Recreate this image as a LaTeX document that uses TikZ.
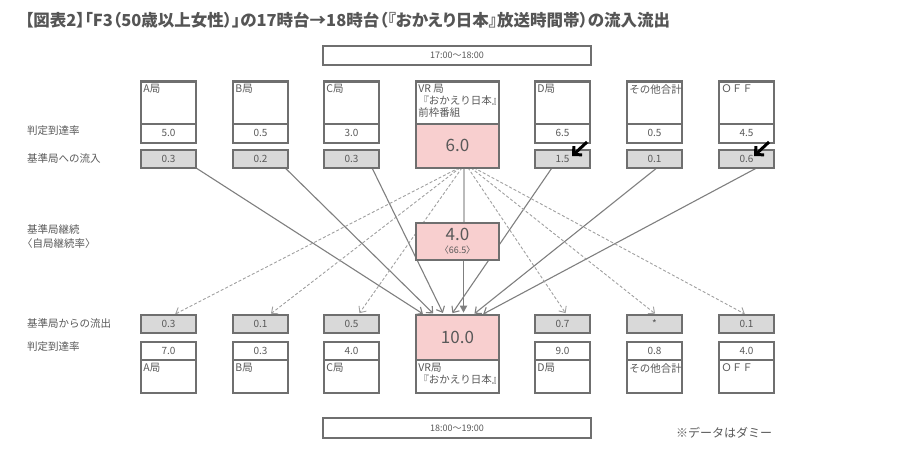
\documentclass[tikz,border=0pt]{standalone}
\usepackage{fontspec}
\setmainfont{Noto Sans CJK JP}
\usetikzlibrary{arrows.meta, backgrounds, positioning}

\definecolor{boxgray}{HTML}{6F6F6F}
\definecolor{txtgray}{HTML}{595959}
\definecolor{titlegray}{HTML}{555555}
\definecolor{flowgray}{HTML}{D9D9D9}
\definecolor{vrpink}{HTML}{F8CFCF}
\definecolor{linegray}{HTML}{7F7F7F}
\definecolor{dashgray}{HTML}{A0A0A0}
\definecolor{keepgray}{HTML}{BBBBBB}

\tikzset{
  box/.style={draw=boxgray, line width=2.4pt, fill=white, inner sep=0pt, outer sep=0pt,
    minimum width=54.6pt, text=txtgray, font=\fontsize{10}{12}\selectfont},
  namebox/.style={box, minimum height=42.6pt},
  valbox/.style={box, minimum height=18.9pt},
  flowbox/.style={box, fill=flowgray, minimum height=17.6pt},
  vrbox/.style={box, fill=vrpink, minimum width=82.6pt, font=\fontsize{17}{20}\selectfont},
  timebox/.style={box, minimum width=267.6pt, minimum height=18.6pt, font=\fontsize{9}{11}\selectfont},
  nametext/.style={anchor=north west, inner xsep=2pt, inner ysep=3pt, align=left, text=txtgray, font=\fontsize{10.5}{12}\selectfont},
  rowlabel/.style={anchor=west, inner sep=0pt, align=left, text=txtgray, font=\fontsize{10.5}{14}\selectfont},
  inflow/.style={draw=linegray, line width=1.1pt, shorten >=2.5pt, -{Straight Barb[length=5pt, width=9pt]}},
  outflow/.style={draw=dashgray, line width=0.9pt, dash pattern=on 3pt off 2pt, shorten >=2.5pt, -{Straight Barb[length=5pt, width=9pt]}},
  note/.style={draw=black, line width=3pt, -{Straight Barb[length=6pt, width=12pt]}}
}

\begin{document}
\begin{tikzpicture}[x=1pt, y=-1pt]
    \useasboundingbox (0,0) rectangle (902,464);

    % --- 1. 見出しと時間帯 ---
    \node[anchor=west, inner sep=0pt, text=titlegray, font=\fontsize{16.5}{18}\selectfont\bfseries\addfontfeature{RawFeature=+palt}] (title) at (25,20)
        {【図表2】「F3（50歳以上女性）」の17時台→18時台（『おかえり日本』放送時間帯）の流入流出};
    \node[timebox] (t17) at (457,55.5) {17:00〜18:00};
    \node[timebox, minimum height=19.6pt] (t18) at (457,428) {18:00〜19:00};

    % --- 2. 行の見出し ---
    \node[rowlabel] (l1) at (27,131) {判定到達率};
    \node[rowlabel] (l2) at (27,158) {基準局への流入};
    \node[rowlabel] (l3) at (27,237) {基準局継続\\\hspace*{-5pt}〈自局継続率〉};
    \node[rowlabel] (l4) at (27,323) {基準局からの流出};
    \node[rowlabel] (l5) at (27,347) {判定到達率};

    % --- 3. 17時台の各局 (局名, 判定到達率, 流入) ---
    \node[namebox, label={[nametext]north west:A局}] (nA) at (168.5,102.6) {};
    \node[namebox, label={[nametext]north west:B局}] (nB) at (260.5,102.6) {};
    \node[namebox, label={[nametext]north west:C局}] (nC) at (351.5,102.6) {};
    \node[namebox, label={[nametext]north west:D局}] (nD) at (562.5,102.6) {};
    \node[namebox, label={[nametext]north west:その他合計}] (nO) at (654.5,102.6) {};
    \node[namebox, label={[nametext]north west:ＯＦＦ}] (nF) at (746.5,102.6) {};
    \node[namebox, minimum width=82.6pt, label={[nametext]north west:VR 局\\『おかえり日本』\\前枠番組}] (nVR) at (457.5,102.6) {};

    \node[valbox, below=0pt of nA] (rA) {5.0};
    \node[valbox, below=0pt of nB] (rB) {0.5};
    \node[valbox, below=0pt of nC] (rC) {3.0};
    \node[valbox, below=0pt of nD] (rD) {6.5};
    \node[valbox, below=0pt of nO] (rO) {0.5};
    \node[valbox, below=0pt of nF] (rF) {4.5};
    \node[vrbox, minimum height=43.9pt, below=0pt of nVR] (rVR) {6.0};

    \node[flowbox] (iA) at (168.5,159) {0.3};
    \node[flowbox] (iB) at (260.5,159) {0.2};
    \node[flowbox] (iC) at (351.5,159) {0.3};
    \node[flowbox] (iD) at (562.5,159) {1.5};
    \node[flowbox] (iO) at (654.5,159) {0.1};
    \node[flowbox] (iF) at (746.5,159) {0.6};

    % --- 4. 基準局継続 ---
    \node[vrbox, minimum height=36.6pt, align=center] (kVR) at (457.5,241.5)
        {4.0\\[-7pt]{\fontsize{9}{10}\selectfont〈66.5〉}};

    % --- 5. 18時台の各局 (流出, 判定到達率, 局名) ---
    \node[flowbox] (oA) at (168.5,324) {0.3};
    \node[flowbox] (oB) at (260.5,324) {0.1};
    \node[flowbox] (oC) at (351.5,324) {0.5};
    \node[flowbox] (oD) at (562.5,324) {0.7};
    \node[flowbox] (oO) at (654.5,324) {*};
    \node[flowbox] (oF) at (746.5,324) {0.1};
    \node[vrbox, minimum height=44.8pt] (oVR) at (457.5,337.6) {10.0};

    \node[valbox, minimum height=17.8pt] (bA) at (168.5,351.1) {7.0};
    \node[valbox, minimum height=17.8pt] (bB) at (260.5,351.1) {0.3};
    \node[valbox, minimum height=17.8pt] (bC) at (351.5,351.1) {4.0};
    \node[valbox, minimum height=17.8pt] (bD) at (562.5,351.1) {9.0};
    \node[valbox, minimum height=17.8pt] (bO) at (654.5,351.1) {0.8};
    \node[valbox, minimum height=17.8pt] (bF) at (746.5,351.1) {4.0};

    \node[namebox, minimum height=32.8pt, below=0pt of bA, label={[nametext]north west:A局}] (mA) {};
    \node[namebox, minimum height=32.8pt, below=0pt of bB, label={[nametext]north west:B局}] (mB) {};
    \node[namebox, minimum height=32.8pt, below=0pt of bC, label={[nametext]north west:C局}] (mC) {};
    \node[namebox, minimum height=32.8pt, below=0pt of bD, label={[nametext]north west:D局}] (mD) {};
    \node[namebox, minimum height=32.8pt, below=0pt of bO, label={[nametext]north west:その他合計}] (mO) {};
    \node[namebox, minimum height=32.8pt, below=0pt of bF, label={[nametext]north west:ＯＦＦ}] (mF) {};
    \node[namebox, minimum width=82.6pt, minimum height=32.8pt, below=0pt of oVR, label={[nametext]north west:VR局\\『おかえり日本』}] (mVR) {};

    \node[anchor=west, inner sep=0pt, text=txtgray, font=\fontsize{12}{14}\selectfont] (dummy) at (676,433) {※データはダミー};

    % --- 6. 流入・流出の矢印 (箱の後ろ) ---
    \begin{scope}[on background layer]
        \draw[inflow] (iA.south east) -- ([xshift=-32.5pt]oVR.north);
        \draw[inflow] ([xshift=24.5pt]iB.south) -- ([xshift=-22.5pt]oVR.north);
        \draw[inflow] ([xshift=20.5pt]iC.south) -- ([xshift=-13.5pt]oVR.north);
        \draw[inflow] ([xshift=-10.5pt]iD.south) -- ([xshift=-6.5pt]oVR.north);
        \draw[inflow] ([xshift=2.5pt]iO.south) -- ([xshift=15pt]oVR.north);
        \draw[inflow] ([xshift=10.5pt]iF.south) -- ([xshift=23.5pt]oVR.north);

        \draw[outflow] ([xshift=1.5pt]rVR.south) -- ([xshift=4.5pt]oA.north);
        \draw[outflow] ([xshift=2.5pt]rVR.south) -- ([xshift=8.5pt]oB.north);
        \draw[outflow] ([xshift=4.5pt]rVR.south) -- ([xshift=6.5pt]oC.north);
        \draw[outflow] ([xshift=10.5pt]rVR.south) -- ([xshift=4.5pt]oD.north);
        \draw[outflow] ([xshift=13.5pt]rVR.south) -- ([xshift=2.5pt]oO.north);
        \draw[outflow] ([xshift=16.5pt]rVR.south) -- ([xshift=0.5pt]oF.north);

        \draw[keepgray, line width=2pt] ([xshift=6pt]rVR.south) -- ([xshift=6pt]kVR.north);
        \draw[linegray, line width=1.8pt, shorten >=2.5pt, -{Triangle[length=7pt, width=7pt]}] ([xshift=6pt]kVR.south) -- ([xshift=6pt]oVR.north);
    \end{scope}

    % --- 7. 注目の矢印 ---
    \coordinate (pD) at ([shift={(24.5,-17)}]iD.center);
    \coordinate (qD) at ([shift={(9.5,-3)}]iD.center);
    \coordinate (pF) at ([shift={(22.5,-17)}]iF.center);
    \coordinate (qF) at ([shift={(7.5,-3)}]iF.center);
    \draw[note] (pD) -- (qD);
    \draw[note] (pF) -- (qF);

\end{tikzpicture}
\end{document}
